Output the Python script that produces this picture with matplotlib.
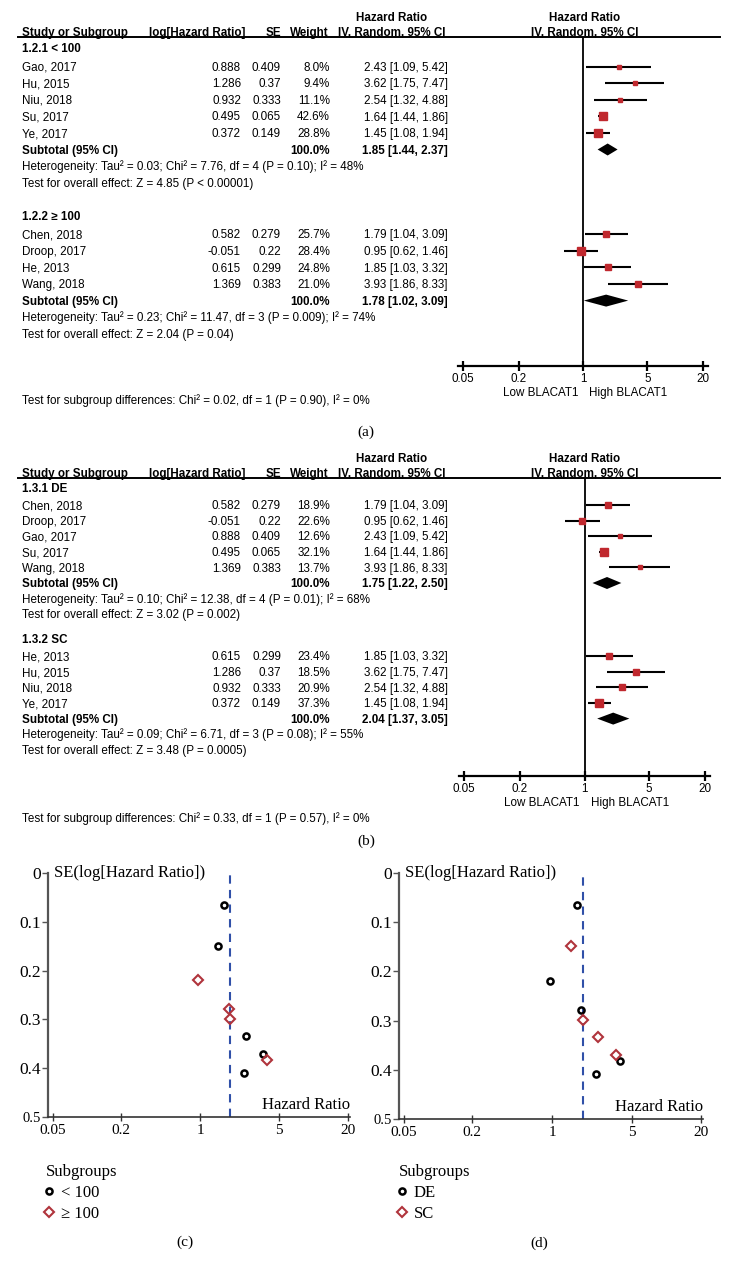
import numpy as np
import matplotlib
matplotlib.use('Agg')
import matplotlib.pyplot as plt

W, H = 732, 1274
SANS = ['Liberation Sans', 'DejaVu Sans']
SERIF = ['Liberation Serif', 'DejaVu Serif']
RED = '#c0282e'
DRED = '#b0343c'
BLUE = '#3050a8'
FS = 8.4  # table text, pt

# study level values
studies = ['Chen, 2018', 'Droop, 2017', 'Gao, 2017', 'He, 2013', 'Hu, 2015',
           'Niu, 2018', 'Su, 2017', 'Wang, 2018', 'Ye, 2017']
log_hr = [0.582, -0.051, 0.888, 0.615, 1.286, 0.932, 0.495, 1.369, 0.372]
se = [0.279, 0.22, 0.409, 0.299, 0.37, 0.333, 0.065, 0.383, 0.149]
hr = [1.79, 0.95, 2.43, 1.85, 3.62, 2.54, 1.64, 3.93, 1.45]
ci_lo = [1.04, 0.62, 1.09, 1.03, 1.75, 1.32, 1.44, 1.86, 1.08]
ci_hi = [3.09, 1.46, 5.42, 3.32, 7.47, 4.88, 1.86, 8.33, 1.94]

# (a) subgroups by sample size
a_names = ['1.2.1 < 100', '1.2.2 \u2265 100']
a_members = [['Gao, 2017', 'Hu, 2015', 'Niu, 2018', 'Su, 2017', 'Ye, 2017'],
             ['Chen, 2018', 'Droop, 2017', 'He, 2013', 'Wang, 2018']]
a_weights = [[8.0, 9.4, 11.1, 42.6, 28.8], [25.7, 28.4, 24.8, 21.0]]
a_totals = [(1.85, 1.44, 2.37), (1.78, 1.02, 3.09)]
a_het = ['Heterogeneity: Tau\u00b2 = 0.03; Chi\u00b2 = 7.76, df = 4 (P = 0.10); I\u00b2 = 48%',
         'Heterogeneity: Tau\u00b2 = 0.23; Chi\u00b2 = 11.47, df = 3 (P = 0.009); I\u00b2 = 74%']
a_test = ['Test for overall effect: Z = 4.85 (P < 0.00001)',
          'Test for overall effect: Z = 2.04 (P = 0.04)']
a_diff = 'Test for subgroup differences: Chi\u00b2 = 0.02, df = 1 (P = 0.90), I\u00b2 = 0%'

# (b) subgroups by detection method
b_names = ['1.3.1 DE', '1.3.2 SC']
b_members = [['Chen, 2018', 'Droop, 2017', 'Gao, 2017', 'Su, 2017', 'Wang, 2018'],
             ['He, 2013', 'Hu, 2015', 'Niu, 2018', 'Ye, 2017']]
b_weights = [[18.9, 22.6, 12.6, 32.1, 13.7], [23.4, 18.5, 20.9, 37.3]]
b_totals = [(1.75, 1.22, 2.50), (2.04, 1.37, 3.05)]
b_het = ['Heterogeneity: Tau\u00b2 = 0.10; Chi\u00b2 = 12.38, df = 4 (P = 0.01); I\u00b2 = 68%',
         'Heterogeneity: Tau\u00b2 = 0.09; Chi\u00b2 = 6.71, df = 3 (P = 0.08); I\u00b2 = 55%']
b_test = ['Test for overall effect: Z = 3.02 (P = 0.002)',
          'Test for overall effect: Z = 3.48 (P = 0.0005)']
b_diff = 'Test for subgroup differences: Chi\u00b2 = 0.33, df = 1 (P = 0.57), I\u00b2 = 0%'

pooled_hr = 1.85
hr_ticks = [0.05, 0.2, 1, 5, 20]
hr_labels = ['0.05', '0.2', '1', '5', '20']
se_ticks = [0, 0.1, 0.2, 0.3, 0.4, 0.5]
se_labels = ['0', '0.1', '0.2', '0.3', '0.4', '0.5']


def px_axes(fig, x0, y0, x1, y1):
    return fig.add_axes([x0 / W, 1 - y1 / H, (x1 - x0) / W, (y1 - y0) / H])


def row_layout(y_head, pitch, head_gap, sec_gap, sizes):
    out = []
    y = y_head
    for n in sizes:
        ys = y + head_gap + pitch * np.arange(n)
        sub = ys[-1] + pitch
        out.append((y, ys, sub, sub + pitch, sub + 2 * pitch))
        y = sub + 2 * pitch + sec_gap
    return out


def txt(bg, x, y, s, ha='left', bold=False, size=FS):
    # y is the visual middle of the capitals; place on the baseline
    bg.text(x, y + 4.2, s, ha=ha, va='baseline', fontsize=size, family=SANS,
            fontweight='bold' if bold else 'normal')


def forest_panel(fig, bg, y_rule, y_axis, x_axis, rows, names, members, weights,
                 totals, hets, tests, diff, y_diff):
    txt(bg, 392, y_rule - 20, 'Hazard Ratio', 'center', True)
    txt(bg, 585, y_rule - 20, 'Hazard Ratio', 'center', True)
    for x, s, ha in [(22, 'Study or Subgroup', 'left'), (245, 'log[Hazard Ratio]', 'right'),
                     (281, 'SE', 'right'), (329, 'Weight', 'right'),
                     (392, 'IV, Random, 95% CI', 'center'), (585, 'IV, Random, 95% CI', 'center')]:
        txt(bg, x, y_rule - 5, s, ha, True)
    bg.plot([18, 720], [y_rule, y_rule], color='black', lw=1.4)

    ax = px_axes(fig, x_axis[0], y_rule, x_axis[1], y_axis)
    ax.patch.set_visible(False)
    ax.set_xscale('log')
    ax.set_xlim(0.0441, 22.66)
    ax.set_ylim(y_axis, y_rule)
    ax.axvline(1, color='black', lw=1.3)
    for sp in ['left', 'top', 'right']:
        ax.spines[sp].set_visible(False)
    ax.spines['bottom'].set_linewidth(1.6)
    ax.set_yticks([])
    ax.set_xticks(hr_ticks)
    ax.set_xticklabels(hr_labels, family=SANS, fontsize=FS)
    ax.minorticks_off()
    ax.tick_params(axis='x', direction='inout', length=6.5, width=1.6, pad=1.5)
    ax.annotate('Low BLACAT1', xy=(1, y_axis), xytext=(-5, -27), textcoords='offset pixels',
                ha='right', va='center', fontsize=FS, family=SANS)
    ax.annotate('High BLACAT1', xy=(1, y_axis), xytext=(6, -27), textcoords='offset pixels',
                ha='left', va='center', fontsize=FS, family=SANS)

    for g in range(len(names)):
        y_head, y_st, y_sub, y_het, y_test = rows[g]
        txt(bg, 22, y_head, names[g], bold=True)
        for k, name in enumerate(members[g]):
            i = studies.index(name)
            y = y_st[k]
            txt(bg, 22, y, name)
            txt(bg, 241, y, str(log_hr[i]), 'right')
            txt(bg, 281, y, str(se[i]), 'right')
            txt(bg, 330, y, f'{weights[g][k]:.1f}%', 'right')
            txt(bg, 448, y, f'{hr[i]:.2f} [{ci_lo[i]:.2f}, {ci_hi[i]:.2f}]', 'right')
            ax.hlines(y, ci_lo[i], ci_hi[i], color='black', lw=1.5)
            ax.plot(hr[i], y, 's', ms=1.35 * np.sqrt(weights[g][k]) * 0.72,
                    color=RED, mec=RED, zorder=3)
        est, lo, hi = totals[g]
        txt(bg, 22, y_sub, 'Subtotal (95% CI)', bold=True)
        txt(bg, 330, y_sub, '100.0%', 'right', True)
        txt(bg, 448, y_sub, f'{est:.2f} [{lo:.2f}, {hi:.2f}]', 'right', True)
        ax.fill([lo, est, hi, est], [y_sub, y_sub - 6, y_sub, y_sub + 6], color='black', lw=0)
        txt(bg, 22, y_het, hets[g])
        txt(bg, 22, y_test, tests[g])
    txt(bg, 22, y_diff, diff)


def funnel_panel(fig, x0, x1, y0, y1, members, labels, legend_xy):
    ax = px_axes(fig, x0, y0, x1, y1)
    ax.patch.set_visible(False)
    ax.set_xscale('log')
    ax.set_xlim(0.0455, 21)
    ax.set_ylim(0.5, 0)
    ax.axvline(pooled_hr, color=BLUE, lw=1.5, ls=(0, (4, 3)))
    idx0 = [studies.index(s) for s in members[0]]
    idx1 = [studies.index(s) for s in members[1]]
    ax.plot([hr[i] for i in idx0], [se[i] for i in idx0], 'o', ls='none', mfc='none',
            mec='black', mew=1.8, ms=4.4, label=labels[0], clip_on=False, zorder=3)
    ax.plot([hr[i] for i in idx1], [se[i] for i in idx1], 'D', ls='none', mfc='none',
            mec=DRED, mew=1.5, ms=5.2, label=labels[1], clip_on=False, zorder=3)
    for sp in ['top', 'right']:
        ax.spines[sp].set_visible(False)
    ax.spines['left'].set_color('#555555')
    ax.spines['left'].set_linewidth(1.6)
    ax.spines['bottom'].set_color('#333333')
    ax.spines['bottom'].set_linewidth(1.2)
    ax.set_xticks(hr_ticks)
    ax.set_xticklabels(hr_labels, family=SERIF, fontsize=11)
    ax.minorticks_off()
    ax.set_yticks(se_ticks)
    ax.set_yticklabels(se_labels, family=SERIF, fontsize=12.5)
    ax.get_yticklabels()[-1].set_fontsize(10.5)
    ax.tick_params(axis='x', direction='inout', length=6, width=1, pad=2, color='#333333')
    ax.tick_params(axis='y', direction='out', length=4, width=1, pad=1, color='#555555')
    ax.annotate('SE(log[Hazard Ratio])', xy=(0, 1), xycoords='axes fraction',
                xytext=(6, 0), textcoords='offset pixels', ha='left', va='center',
                family=SERIF, fontsize=12)
    ax.annotate('Hazard Ratio', xy=(1, 0), xycoords='axes fraction',
                xytext=(0, 12), textcoords='offset pixels', ha='right', va='center',
                family=SERIF, fontsize=12)
    leg = ax.legend(title='Subgroups', alignment='left', frameon=False, loc='upper left',
                    bbox_to_anchor=(legend_xy[0] / W, 1 - legend_xy[1] / H),
                    bbox_transform=fig.transFigure, borderpad=0, borderaxespad=0,
                    handlelength=0.4, handletextpad=0.5, labelspacing=0.3,
                    prop={'family': SERIF, 'size': 12})
    leg.get_title().set_fontfamily(SERIF)
    leg.get_title().set_fontsize(12)
    return ax


fig = plt.figure(figsize=(W / 100, H / 100), dpi=100)
bg = fig.add_axes([0, 0, 1, 1])
bg.set_xlim(0, W)
bg.set_ylim(H, 0)
bg.axis('off')

rows_a = row_layout(48, 16.6, 18.5, 33, [len(m) for m in a_members])
forest_panel(fig, bg, 37, 366, (458, 708), rows_a, a_names, a_members, a_weights,
             a_totals, a_het, a_test, a_diff, 400)
rows_b = row_layout(488, 15.6, 17, 25, [len(m) for m in b_members])
forest_panel(fig, bg, 478, 776, (459, 710), rows_b, b_names, b_members, b_weights,
             b_totals, b_het, b_test, b_diff, 818)

funnel_panel(fig, 48, 350, 873, 1117, a_members, ['< 100', '\u2265 100'], (46, 1164))
funnel_panel(fig, 399, 703, 873, 1119, b_members, ['DE', 'SC'], (399, 1164))

for s, x, y in [('(a)', 366, 432), ('(b)', 366, 841), ('(c)', 185, 1242), ('(d)', 539, 1243)]:
    bg.text(x, y, s, ha='center', va='center', family=SERIF, fontsize=11)

fig.savefig('out.png', dpi=100)
